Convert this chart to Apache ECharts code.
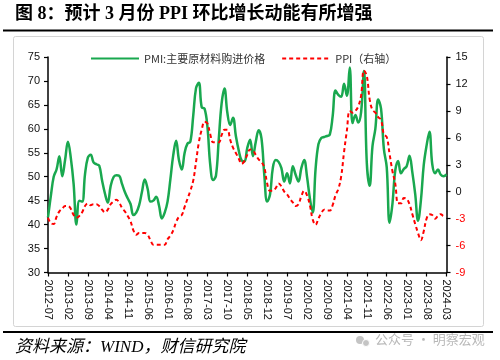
<!DOCTYPE html>
<html>
<head>
<meta charset="utf-8">
<script src="https://cdn.jsdelivr.net/npm/echarts@6/dist/echarts.min.js"></script>
<style>
html,body{margin:0;padding:0;background:#fff;}
#c{width:500px;height:360px;}
</style>
</head>
<body>
<div id="c"></div>
<script>
// ---- data ----
const startYear = 2012, startMonth = 7, endYear = 2024, endMonth = 3;
const categories = [];
for (let y = startYear, m = startMonth; y < endYear || (y === endYear && m <= endMonth); ) {
  categories.push(y + '-' + (m < 10 ? '0' + m : '' + m));
  m++; if (m > 12) { m = 1; y++; }
}
// PMI: 主要原材料购进价格 (left axis)
const pmiPrice = [
  41.5, 46.0, 50.0, 51.5, 54.3, 50.1,
  53.5, 57.3, 54.0, 48.5, 40.0, 45.0, 44.8, 50.5, 54.0, 54.6, 53.0, 52.6,
  52.3, 49.2, 46.5, 44.6, 48.0, 49.9, 50.3, 50.2, 48.5, 46.8, 45.5, 44.3,
  42.0, 42.5, 44.0, 46.8, 49.4, 47.5, 44.8, 45.0, 45.8, 44.0, 41.3, 42.5,
  44.8, 49.5, 54.5, 57.5, 53.5, 51.5, 55.0, 56.9, 57.3, 62.6, 68.5, 69.6,
  64.5, 64.2, 60.5, 52.5, 49.3, 50.2, 57.9, 65.3, 68.4, 63.4, 60.8, 62.3,
  58.5, 55.5, 53.4, 53.2, 56.0, 57.7, 54.3, 57.3, 59.7, 58.0, 50.3, 44.8,
  46.3, 51.9, 53.5, 53.1, 51.8, 49.0, 50.7, 48.6, 52.2, 50.4, 49.0, 51.8,
  53.5, 50.0, 45.5, 42.5, 51.6, 56.8, 58.1, 58.3, 58.5, 58.8, 62.6, 68.0,
  67.1, 66.7, 69.4, 66.9, 72.8, 61.2, 62.9, 61.3, 63.5, 72.1, 52.9, 48.1,
  56.4, 60.0, 66.1, 64.2, 55.8, 52.0, 40.4, 44.3, 51.3, 53.3, 50.7, 51.6,
  52.2, 54.4, 50.9, 46.4, 40.8, 45.0, 52.4, 56.5, 59.4, 52.6, 50.7, 51.5,
  50.4, 50.1, 50.5
];
// PPI yoy (right axis)
const ppi = [
  -2.9, -3.5, -3.6, -2.8, -2.2, -1.9,
  -1.6, -1.6, -1.9, -2.6, -2.9, -2.7, -2.3, -1.6, -1.3, -1.5, -1.4, -1.4,
  -1.6, -2.0, -2.3, -2.0, -1.4, -1.1, -0.9, -1.2, -1.8, -2.2, -2.7, -3.3,
  -4.3, -4.8, -4.6, -4.6, -4.6, -4.8, -5.4, -5.9, -5.9, -5.9, -5.9, -5.9,
  -5.3, -4.9, -4.3, -3.4, -2.8, -2.6, -1.7, -0.8, 0.1, 1.2, 3.3, 5.5,
  6.9, 7.8, 7.6, 6.4, 5.5, 5.5, 5.5, 6.3, 6.9, 6.9, 5.8, 4.9,
  4.3, 3.7, 3.1, 3.4, 4.1, 4.7, 4.6, 4.1, 3.6, 3.3, 2.7, 0.9,
  0.1, 0.1, 0.4, 0.9, 0.6, 0.0, -0.3, -0.8, -1.2, -1.6, -1.4, -0.5,
  0.1, -0.4, -1.5, -3.1, -3.7, -3.0, -2.4, -2.0, -2.1, -2.1, -1.5, -0.4,
  0.3, 1.7, 4.4, 6.8, 9.0, 8.8, 9.0, 9.5, 10.7, 13.5, 12.9, 10.3,
  9.1, 8.8, 8.3, 8.0, 6.4, 6.1, 4.2, 2.3, 0.9, -1.3, -1.3, -0.7,
  -0.8, -1.4, -2.5, -3.6, -4.6, -5.4, -4.4, -3.0, -2.5, -2.6, -3.0, -2.7,
  -2.5, -2.7, -2.7
];
const seriesNames = ['PMI:主要原材料购进价格', 'PPI（右轴）'];
const titleText = '图 8：预计 3 月份 PPI 环比增长动能有所增强';
const sourceText = '资料来源：WIND，财信研究院';
const watermarkText = '公众号 · 明察宏观';

// ---- chart ----
const chart = echarts.init(document.getElementById('c'), null, {renderer: 'canvas'});
const sans = "'Liberation Sans','Noto Sans CJK SC',sans-serif";
const option = {
  animation: false,
  backgroundColor: '#fff',
  grid: {left: 48, right: 53.5, top: 57, bottom: 87.5, containLabel: false},
  legend: {
    left: 85, top: 48,
    itemWidth: 48, itemHeight: 12, itemGap: 16,
    itemStyle: {opacity: 0},
    textStyle: {fontSize: 11, color: '#333', fontFamily: "'Noto Sans CJK SC',sans-serif"},
    data: seriesNames
  },
  xAxis: {
    type: 'category',
    data: categories,
    boundaryGap: false,
    axisLine: {show: true, onZero: false, lineStyle: {color: '#000', width: 1.5}},
    axisTick: {show: true, interval: 6, length: 4, lineStyle: {color: '#000', width: 1.2}},
    axisLabel: {interval: 6, rotate: -90, fontSize: 11, color: '#111', fontFamily: sans, margin: 7},
    splitLine: {show: false}
  },
  yAxis: [
    {
      type: 'value', min: 30, max: 75, interval: 5, position: 'left',
      axisLine: {show: true, lineStyle: {color: '#000', width: 1.5}},
      axisTick: {show: true, length: 4, lineStyle: {color: '#000', width: 1.2}},
      axisLabel: {fontSize: 11, color: '#111', fontFamily: sans, margin: 8},
      splitLine: {show: false}
    },
    {
      type: 'value', min: -9, max: 15, interval: 3, position: 'right',
      axisLine: {show: true, lineStyle: {color: '#000', width: 1.5}},
      axisTick: {show: true, length: 4, lineStyle: {color: '#000', width: 1.2}},
      axisLabel: {
        fontSize: 11, fontFamily: sans, margin: 9,
        color: function (v) { return parseFloat(v) < 0 ? '#ff0000' : '#111'; }
      },
      splitLine: {show: false}
    }
  ],
  series: [
    {
      name: seriesNames[0], type: 'line', yAxisIndex: 0, data: pmiPrice,
      symbol: 'none', smooth: 0.4,
      lineStyle: {color: '#19a84f', width: 2.5},
      itemStyle: {color: '#19a84f'}, z: 2
    },
    {
      name: seriesNames[1], type: 'line', yAxisIndex: 1, data: ppi,
      symbol: 'none', smooth: 0.4,
      lineStyle: {color: '#ff0000', width: 2, type: [4, 3]},
      itemStyle: {color: '#ff0000'}, z: 3
    }
  ],
  graphic: [
    {type: 'text', left: 15, top: 5, style: {text: titleText, fontSize: 18, fontWeight: 'bold', fill: '#000', fontFamily: "'Liberation Serif','Noto Sans CJK SC',serif"}},
    {type: 'rect', shape: {x: 3, y: 29.5, width: 490, height: 2}, style: {fill: '#000'}},
    {type: 'rect', shape: {x: 13.5, y: 36.5, width: 470, height: 290, r: 2}, style: {fill: 'none', stroke: '#d4d4d4', lineWidth: 1}, z: -1},
    {type: 'rect', shape: {x: 3, y: 331, width: 490, height: 2}, style: {fill: '#000'}},
    {type: 'text', left: 15, top: 339, style: {text: sourceText, fontSize: 17, fontStyle: 'italic', fill: '#000', fontFamily: "'Liberation Serif','Noto Sans CJK SC',serif"}},
    {type: 'circle', shape: {cx: 360, cy: 340, r: 4}, style: {fill: '#c4c4c4'}},
    {type: 'circle', shape: {cx: 366, cy: 343, r: 3.5}, style: {fill: '#c4c4c4', stroke: '#fff', lineWidth: 1}},
    {type: 'text', left: 375, top: 333, style: {text: watermarkText, fontSize: 13, fill: '#b8b8b8', fontFamily: "'Noto Sans CJK SC',sans-serif"}}
  ]
};
chart.setOption(option);
</script>
</body>
</html>
